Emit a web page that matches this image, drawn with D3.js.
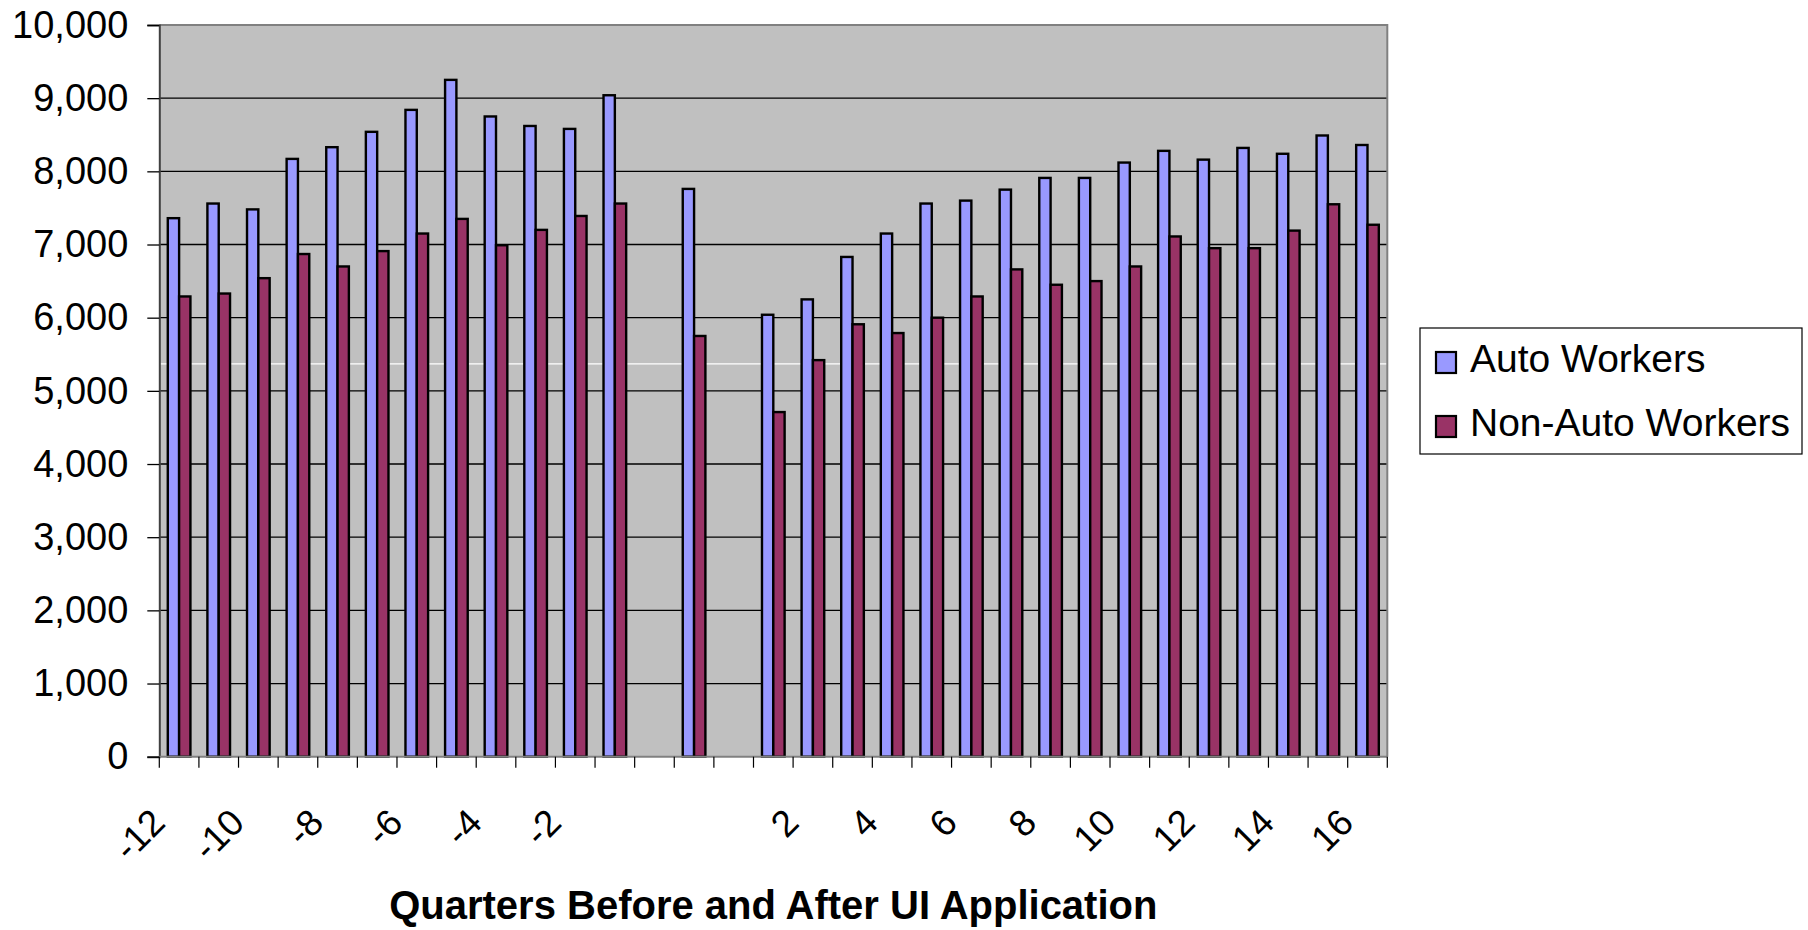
<!DOCTYPE html>
<html>
<head>
<meta charset="utf-8">
<script src="https://cdn.jsdelivr.net/npm/d3@7"></script>
<style>
  html, body { margin: 0; padding: 0; background: #ffffff; }
  svg { display: block; }
  text { font-family: "Liberation Sans", Arial, Helvetica, sans-serif; }
</style>
</head>
<body>
<svg id="chart" width="1808" height="930"></svg>
<script>
// ---- Data ----
const categories = ["-12","-11","-10","-9","-8","-7","-6","-5","-4","-3","-2","-1",
                    "", "0", "",
                    "1","2","3","4","5","6","7","8","9","10","11","12","13","14","15","16"];
const autoWorkers = [7360, 7560, 7480, 8170, 8330, 8540, 8840, 9250, 8750, 8620, 8580, 9040,
                     null, 7760, null,
                     6040, 6250, 6830, 7150, 7560, 7600, 7750, 7910, 7910, 8120, 8280, 8160, 8320, 8240, 8490, 8360];
const nonAutoWorkers = [6290, 6330, 6540, 6870, 6700, 6910, 7150, 7350, 6990, 7200, 7390, 7560,
                        null, 5750, null,
                        4710, 5420, 5910, 5790, 6000, 6290, 6660, 6450, 6500, 6700, 7110, 6950, 6950, 7190, 7550, 7270];
const seriesNames = ["Auto Workers", "Non-Auto Workers"];
const seriesColors = ["#9999FF", "#993366"];
const yTicks = [0,1000,2000,3000,4000,5000,6000,7000,8000,9000,10000];
const yMax = 10000;
const artifactLineValue = 5370; // faint white line visible across the plot
const labelEvery = 2;
const xTitle = "Quarters Before and After UI Application";

// ---- Layout ----
const svg = d3.select("#chart");
const plot = { left: 159.3, right: 1387.3, top: 25, bottom: 756.7 };

const idx = categories.map((d, i) => i);
const x = d3.scaleBand().domain(idx).range([plot.left, plot.right]).paddingInner(0).paddingOuter(0);
const xSub = d3.scaleBand().domain([0, 1]).range([0, x.step()]).paddingInner(0).paddingOuter(0.75);
const y = d3.scaleLinear().domain([0, yMax]).range([plot.bottom, plot.top]);

// plot background
svg.append("rect")
  .attr("x", plot.left).attr("y", plot.top)
  .attr("width", plot.right - plot.left).attr("height", plot.bottom - plot.top)
  .attr("fill", "#C0C0C0");

// artifact white line
svg.append("line")
  .attr("x1", plot.left).attr("x2", plot.right)
  .attr("y1", y(artifactLineValue)).attr("y2", y(artifactLineValue))
  .attr("stroke", "#ffffff").attr("stroke-width", 1.2);

// gridlines
svg.append("g").selectAll("line")
  .data(yTicks.filter(v => v > 0 && v < yMax))
  .join("line")
  .attr("x1", plot.left).attr("x2", plot.right)
  .attr("y1", d => y(d)).attr("y2", d => y(d))
  .attr("stroke", "#000").attr("stroke-width", 1.3);

// plot border top/right
svg.append("path")
  .attr("d", `M${plot.left},${plot.top}H${plot.right}V${plot.bottom}`)
  .attr("fill", "none").attr("stroke", "#808080").attr("stroke-width", 2);

// bars
const series = [autoWorkers, nonAutoWorkers];
series.forEach((vals, s) => {
  svg.append("g").selectAll("rect")
    .data(vals.map((v, i) => ({ i, v })).filter(d => d.v != null))
    .join("rect")
    .attr("x", d => x(d.i) + xSub(s))
    .attr("width", xSub.bandwidth())
    .attr("y", d => y(d.v))
    .attr("height", d => y(0) - y(d.v))
    .attr("fill", seriesColors[s])
    .attr("stroke", "#000").attr("stroke-width", 2.4);
});

// y axis
const yAxis = d3.axisLeft(y).tickValues(yTicks).tickSize(12).tickPadding(19).tickFormat(d3.format(","));
const gy = svg.append("g").attr("transform", `translate(${plot.left},0)`).call(yAxis);
gy.select(".domain").attr("stroke", "#404040").attr("stroke-width", 2);
gy.selectAll(".tick line").attr("stroke", "#000").attr("stroke-width", 1.3);
gy.selectAll(".tick text").attr("font-size", 38).attr("fill", "#000")
  .attr("font-family", "'Liberation Sans', Arial, sans-serif");

// x axis line
svg.append("line")
  .attr("x1", plot.left).attr("x2", plot.right)
  .attr("y1", y(0)).attr("y2", y(0))
  .attr("stroke", "#808080").attr("stroke-width", 2);

// x ticks at category boundaries
const boundaries = idx.map(i => x(i)).concat([plot.right]);
svg.append("g").selectAll("line")
  .data(boundaries)
  .join("line")
  .attr("x1", d => d).attr("x2", d => d)
  .attr("y1", y(0)).attr("y2", y(0) + 11)
  .attr("stroke", "#000").attr("stroke-width", 1.2);

// x labels (rotated)
svg.append("g").selectAll("text")
  .data(idx.filter(i => i % labelEvery === 0))
  .join("text")
  .attr("transform", i => `translate(${x(i) + x.bandwidth() / 2 - 12},${y(0) + 68}) rotate(-45)`)
  .attr("text-anchor", "end")
  .attr("font-size", 37)
  .attr("fill", "#000")
  .text(i => categories[i]);

// x title
svg.append("text")
  .attr("x", (plot.left + plot.right) / 2)
  .attr("y", 919)
  .attr("text-anchor", "middle")
  .attr("font-size", 40)
  .attr("font-weight", "bold")
  .attr("fill", "#000")
  .text(xTitle);

// legend
const legend = svg.append("g");
legend.append("rect")
  .attr("x", 1420).attr("y", 328).attr("width", 382).attr("height", 126)
  .attr("fill", "#fff").attr("stroke", "#000").attr("stroke-width", 1.2);
const legendY = d3.scalePoint().domain(seriesNames).range([362, 426]);
seriesNames.forEach((name, s) => {
  legend.append("rect")
    .attr("x", 1436).attr("y", legendY(name) - 10)
    .attr("width", 20).attr("height", 21)
    .attr("fill", seriesColors[s]).attr("stroke", "#000").attr("stroke-width", 2.2);
  legend.append("text")
    .attr("x", 1470).attr("y", legendY(name) + 10)
    .attr("font-size", 39).attr("fill", "#000")
    .text(name);
});
</script>
</body>
</html>
